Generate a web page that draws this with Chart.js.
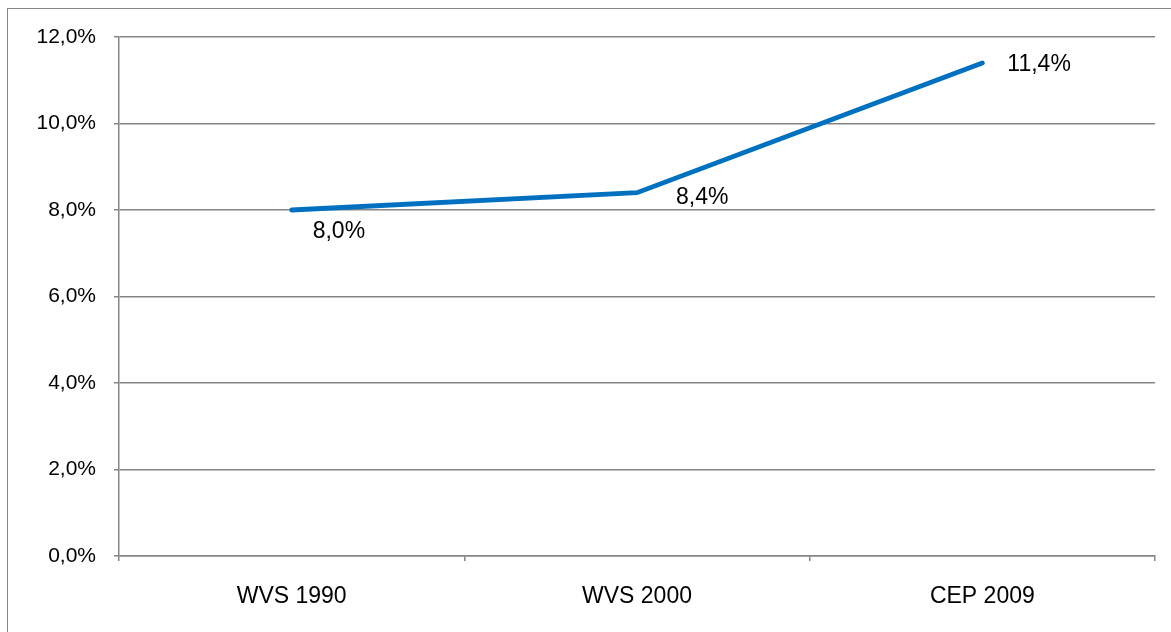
<!DOCTYPE html>
<html>
<head>
<meta charset="utf-8">
<script src="https://cdn.jsdelivr.net/npm/chart.js@4/dist/chart.umd.min.js"></script>
<style>
  html, body { margin: 0; padding: 0; background: #fff; overflow: hidden; }
  #wrap { position: relative; width: 1171px; height: 632px; }
  #frame { position: absolute; left: 7px; top: 8px; width: 1200px; height: 700px; border: 1px solid #868686; box-sizing: border-box; }
  canvas { position: absolute; left: 0; top: 0; }
</style>
</head>
<body>
<div id="wrap">
  <div id="frame"></div>
  <canvas id="chart" width="1171" height="632"></canvas>
</div>
<script>
const categories = ['WVS 1990', 'WVS 2000', 'CEP 2009'];
const values = [8.0, 8.4, 11.4];
const yTicks = [0, 2, 4, 6, 8, 10, 12];

// label offsets relative to each point (px), as placed in the original
const labelOffsets = [[21, 22], [39, 5], [25, 2]];

const pct = v => v.toFixed(1).replace('.', ',') + '%';
const gridColor = '#868686';

const pointLabels = {
  id: 'pointLabels',
  afterDatasetsDraw(chart) {
    const ctx = chart.ctx;
    const meta = chart.getDatasetMeta(0);
    ctx.save();
    ctx.font = '23px "Liberation Sans", Arial, sans-serif';
    ctx.fillStyle = '#000';
    ctx.textAlign = 'left';
    ctx.textBaseline = 'middle';
    meta.data.forEach((pt, i) => {
      const [dx, dy] = labelOffsets[i];
      ctx.fillText(pct(values[i]), pt.x + dx, pt.y + dy);
    });
    ctx.restore();
  }
};

const ctx = document.getElementById('chart').getContext('2d');
new Chart(ctx, {
  type: 'line',
  data: {
    labels: categories,
    datasets: [{
      data: values,
      borderColor: '#0070C0',
      borderWidth: 4.8,
      borderCapStyle: 'round',
      borderJoinStyle: 'miter',
      pointRadius: 0,
      tension: 0
    }]
  },
  options: {
    responsive: false,
    animation: false,
    events: [],
    layout: { padding: { top: 37, right: 16, left: 0, bottom: 0 } },
    plugins: {
      legend: { display: false },
      tooltip: { enabled: false }
    },
    scales: {
      x: {
        offset: true,
        afterFit: s => { s.height = 76; },
        grid: {
          offset: true,
          drawOnChartArea: false,
          drawTicks: true,
          tickLength: 5,
          color: gridColor,
          lineWidth: 1.5
        },
        border: { display: true, color: gridColor, width: 1.5 },
        ticks: {
          color: '#000',
          padding: 22,
          maxRotation: 0,
          font: { family: '"Liberation Sans", Arial, sans-serif', size: 23 }
        }
      },
      y: {
        min: 0,
        max: 12,
        afterFit: s => { s.width = 119; },
        afterBuildTicks: s => { s.ticks = yTicks.map(v => ({ value: v })); },
        grid: {
          color: gridColor,
          lineWidth: 1.5,
          drawTicks: true,
          tickLength: 5
        },
        border: { display: true, color: gridColor, width: 1.5 },
        ticks: {
          color: '#000',
          padding: 18,
          callback: v => pct(v),
          font: { family: '"Liberation Sans", Arial, sans-serif', size: 21 }
        }
      }
    }
  },
  plugins: [pointLabels]
});
</script>
</body>
</html>
